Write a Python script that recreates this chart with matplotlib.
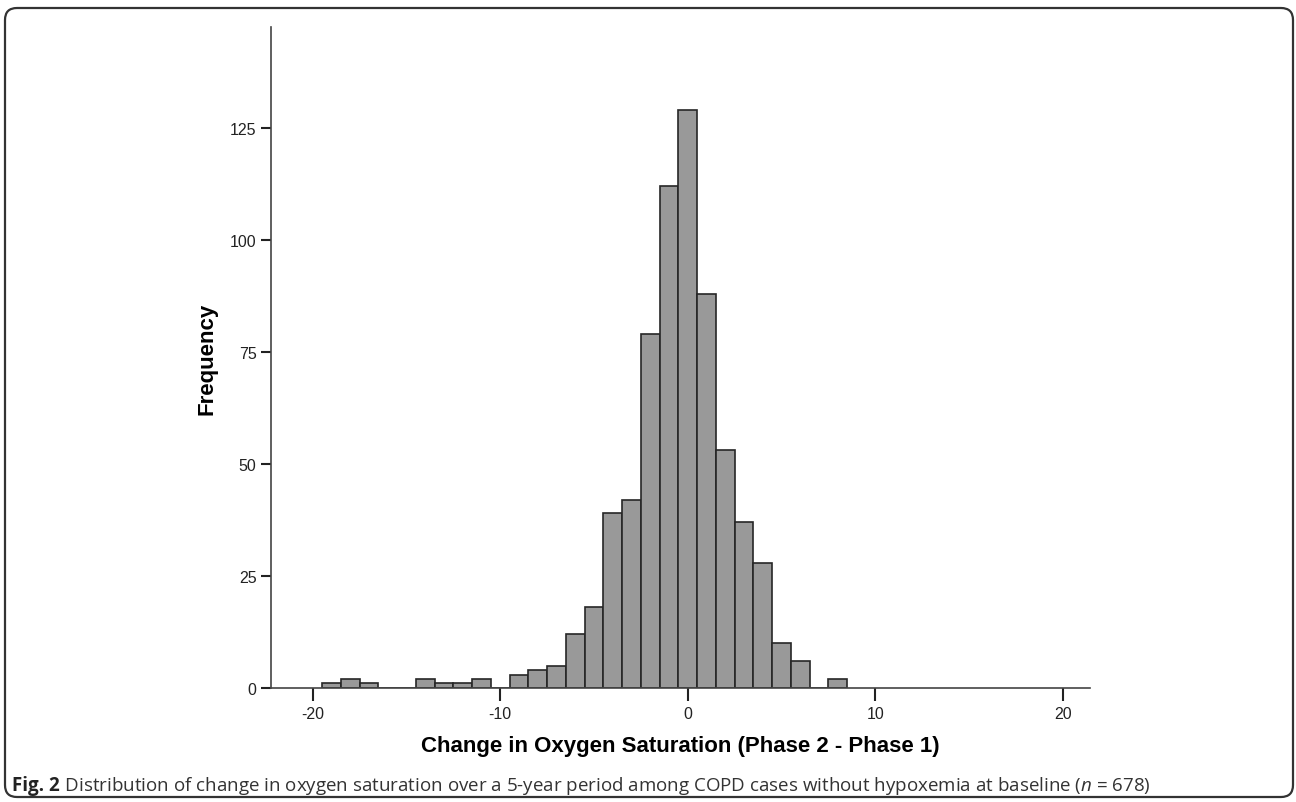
import matplotlib
matplotlib.use("Agg")
import matplotlib.pyplot as plt
from matplotlib.patches import FancyBboxPatch
from matplotlib.transforms import IdentityTransform

# histogram data (bins of width 1 centred on integers)
bin_centers = [-19, -18, -17, -16, -15, -14, -13, -12, -11, -10,
               -9, -8, -7, -6, -5, -4, -3, -2, -1, 0,
               1, 2, 3, 4, 5, 6, 7, 8]
counts = [1, 2, 1, 0, 0, 2, 1, 1, 2, 0,
          3, 4, 5, 12, 18, 39, 42, 79, 112, 129,
          88, 53, 37, 28, 10, 6, 0, 2]
x_ticks = [-20, -10, 0, 10, 20]
y_ticks = [0, 25, 50, 75, 100, 125]

plt.rcParams['font.family'] = ['Liberation Sans', 'DejaVu Sans']
plt.rcParams['axes.unicode_minus'] = False
plt.rcParams['mathtext.fontset'] = 'custom'
plt.rcParams['mathtext.rm'] = 'Open Sans'
plt.rcParams['mathtext.it'] = 'Open Sans:italic'

fig = plt.figure(figsize=(12.96, 8.03), dpi=100)
ax = fig.add_axes([0.2091, 0.1420, 0.6319, 0.8231])

ax.bar(bin_centers, counts, width=1.0, color='#999999', edgecolor='#262626', linewidth=1.2)

ax.set_xlim(-22.22, 21.45)
ax.set_ylim(0, 147.5)
ax.set_xticks(x_ticks)
ax.set_yticks(y_ticks)
for s in ['top', 'right']:
    ax.spines[s].set_visible(False)
for s in ['left', 'bottom']:
    ax.spines[s].set_color('#444444')
    ax.spines[s].set_linewidth(1.2)
ax.tick_params(axis='both', colors='#222222', labelsize=11.5, width=1.5, length=7)
ax.tick_params(axis='x', length=9, pad=4)

ax.set_xlabel('Change in Oxygen Saturation (Phase 2 - Phase 1)', fontsize=16,
              fontweight='bold', labelpad=10)
ax.set_ylabel('Frequency', fontsize=16, fontweight='bold', labelpad=9)

# caption: bold "Fig. 2" then the rest on the same baseline
cap_y = 0.0149
cap = fig.text(0.0093, cap_y, 'Fig. 2', fontsize=13.5, fontweight='bold',
               family='Open Sans', color='#222222', va='baseline')
fig.canvas.draw()
bb = cap.get_window_extent()
rest = ' Distribution of change in oxygen saturation over a 5-year period among COPD cases ' \
       'without hypoxemia at baseline ($n$ = 678)'
fig.text(bb.x1 / fig.bbox.width, cap_y, rest, fontsize=13.5, family='Open Sans',
         color='#333333', va='baseline')

border = FancyBboxPatch((5, 5), 1288, 789, boxstyle='round,pad=0,rounding_size=12',
                        transform=IdentityTransform(), fill=False,
                        edgecolor='#333333', linewidth=1.6)
fig.add_artist(border)

fig.savefig('out.png', dpi=100)
